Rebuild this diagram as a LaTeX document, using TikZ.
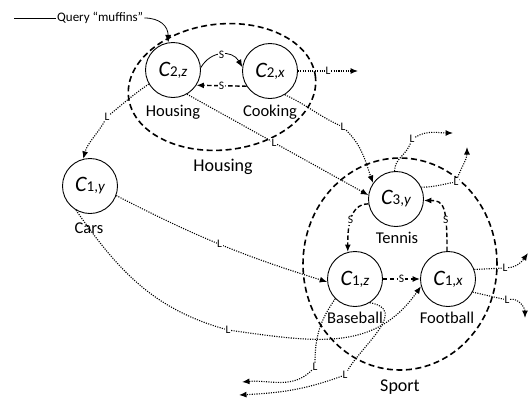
\documentclass[tikz,border=0pt]{standalone}
\usepackage{fontspec}
\setmainfont{Carlito}
\usetikzlibrary{arrows.meta,shapes.geometric}
\newcommand\clab[2]{{\fontsize{22}{22}\selectfont\itshape C}{\fontsize{15}{15}\selectfont #1,\itshape #2}}
\begin{document}
\begin{tikzpicture}[x=1pt,y=1pt,
  cnode/.style={circle,draw,line width=0.9pt,minimum size=55pt,inner sep=0pt},
  lab/.style={font=\fontsize{16.5}{16.5}\selectfont,inner sep=0pt},
  clab/.style={font=\fontsize{18}{18}\selectfont,inner sep=0pt},
  el/.style={font=\fontsize{11.5}{11.5}\selectfont,fill=white,inner sep=0.6pt},
  dotl/.style={line width=1.1pt,dash pattern=on 1.1pt off 1.3pt},
  dashl/.style={line width=1.4pt,dash pattern=on 4.5pt off 2.5pt},
  clus/.style={draw,ellipse,line width=1.6pt,dash pattern=on 6pt off 3.5pt,inner sep=0pt},
  arr/.style={-{Latex[length=7.5pt,width=6pt]}},
]
\useasboundingbox (0,0) rectangle (530,-397);
% clusters
\node[clus,minimum width=188pt,minimum height=126pt,rotate=6] (hc) at (222,-87) {};
\node[clus,minimum width=194pt,minimum height=212pt] (sc) at (400,-264) {};
\node[clab] (hcl) at (223,-167) {Housing};
\node[clab] (scl) at (400,-387) {Sport};
% concept nodes
\node[cnode] (C2z) at (173,-70) {\clab{2}{z}};
\node[cnode] (C2x) at (270,-71) {\clab{2}{x}};
\node[cnode] (C1y) at (90,-186) {\clab{1}{y}};
\node[cnode] (C3y) at (396,-199) {\clab{3}{y}};
\node[cnode] (C1z) at (355,-279) {\clab{1}{z}};
\node[cnode] (C1x) at (448,-279) {\clab{1}{x}};
% labels
\node[lab] (t1) at (173,-112) {Housing};
\node[lab] (t2) at (270,-112) {Cooking};
\node[lab] (t3) at (89,-228) {Cars};
\node[lab] (t4) at (397,-238) {Tennis};
\node[lab] (t5) at (355,-318) {Baseball};
\node[lab] (t6) at (447,-318) {Football};
% query
\node[anchor=west,font=\fontsize{13}{13}\selectfont,inner sep=1pt] (q) at (56,-18) {Query “muffins”};
\coordinate (qs) at (14,-18);
\draw[line width=0.8pt] (qs) -- (q.west);
\draw[line width=0.8pt,arr] (q.east) .. controls +(16,0) and +(0,16) .. (C2z.100);
% S links in Housing
\draw[line width=0.8pt,arr] (C2z.5) .. controls +(60:20) and +(120:20) .. node[el]{S} (C2x.172);
\draw[dashl,arr] (C2x.213) -- node[el]{S} (C2z.-33);
% L from C2x
\node[el] (L4) at (328,-71) {L};
\coordinate (e4) at (358,-71);
\draw[dotl] (C2x.0) -- (L4);
\draw[dotl,arr] (L4) -- (e4);
% C2z -> C1y
\node[el] (L5) at (107,-117) {L};
\draw[dotl] (C2z.210) to[out=215,in=40] (L5);
\draw[dotl,arr] (L5) to[out=-120,in=75] (C1y.104);
% C2z -> C3y
\draw[dotl,arr] (C2z.-60) -- node[el,pos=0.48]{L} (C3y.172);
% C2x -> C3y
\node[el] (L7) at (343,-127) {L};
\draw[dotl] (C2x.-58) to[out=-25,in=155] (L7);
\draw[dotl,arr] (L7) to[out=-45,in=110] (C3y.145);
% C3y outgoing
\node[el] (L8) at (412,-139) {L};
\coordinate (e8) at (453,-133);
\draw[dotl] (C3y.93) to[out=90,in=-110] (L8);
\draw[dotl,arr] (L8) to[out=30,in=180] (e8);
\node[el] (L9) at (456,-182) {L};
\coordinate (e9) at (467,-147);
\draw[dotl] (C3y.25) to[out=0,in=190] (L9);
\draw[dotl,arr] (L9) to[out=70,in=-90] (e9);
% S links in Sport
\draw[dashl,arr] (C3y.190) to[out=180,in=90] node[el]{S} (C1z.105);
\draw[dashl,arr] (C1x.92) .. controls +(0,45) and +(20,0) .. node[el,pos=0.3]{S} (C3y.-3);
\draw[dashl,arr] (C1z.east) -- node[el]{S} (C1x.west);
% C1y -> C1z
\draw[dotl,arr] (C1y.-20) to[bend right=5] node[el]{L} (C1z.186);
% C1y -> C1x
\node[el] (L14) at (228,-330) {L};
\draw[dotl] (C1y.240) to[out=-55,in=164] (L14);
\draw[dotl,arr] (L14) .. controls +(-8:90) and +(235:80) .. (C1x.195);
% C1z outgoing
\node[el] (L15) at (315,-367) {L};
\coordinate (e15) at (242,-382);
\draw[dotl] (C1z.225) to[out=235,in=90] (L15);
\draw[dotl,arr] (L15) to[out=-135,in=5] (e15);
\node[el] (L16) at (345,-375) {L};
\coordinate (e16) at (239,-395);
\draw[dotl] (C1z.-58) .. controls +(-10:40) and +(60:35) .. (L16);
\draw[dotl,arr] (L16) to[out=-160,in=3] (e16);
% C1x outgoing
\node[el] (L17) at (505,-268) {L};
\coordinate (e17) at (528,-253);
\draw[dotl] (C1x.20) -- (L17);
\draw[dotl,arr] (L17) to[out=5,in=-125] (e17);
\node[el] (L18) at (507,-300) {L};
\coordinate (e18) at (525,-318);
\draw[dotl] (C1x.-28) -- (L18);
\draw[dotl,arr] (L18) to[out=10,in=90] (e18);
\end{tikzpicture}
\end{document}
